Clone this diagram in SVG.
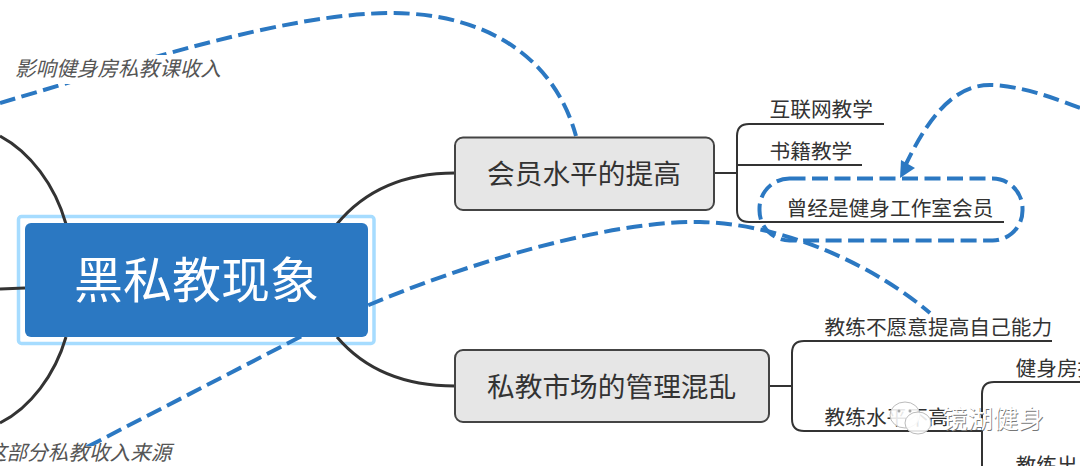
<svg xmlns="http://www.w3.org/2000/svg" width="1080" height="466" viewBox="0 0 1080 466">
<defs>
<style>
text{font-family:"Noto Sans CJK SC","Noto Sans",sans-serif;fill:#333}
.topic{fill:#e6e6e6;stroke:#444;stroke-width:2}
.t2{font-size:27.700px}
.leaf{font-size:20.700px}
.note{font-size:20.600px;font-style:italic;fill:#555}
.branch{fill:none;stroke:#333;stroke-width:3}
.tree{fill:none;stroke:#333;stroke-width:2}
.rel{fill:none;stroke:#2b78c2;stroke-width:4;stroke-dasharray:16 6.500}
.mark{font-size:25.500px}
.bubble{fill:#fff;fill-opacity:.88;stroke:#bbb;stroke-width:1}
</style>
</defs>
<rect width="1080" height="466" fill="#fff"/>
<g id="central-frame"><rect x="18.500" y="216.500" width="355.500" height="127" rx="3" fill="#fff" stroke="#a6dcff" stroke-width="3.500"/></g>
<g id="leaf-former"><rect x="759.500" y="178.500" width="263" height="62" rx="30" fill="#f3f8fd" class="rel"/><path class="tree" d="M787,222H1004"/><text class="leaf" x="786.500" y="216">曾经是健身工作室会员</text></g>
<g id="connectors">
<path class="branch" d="M66,224C55,185 30,152 0,136"/>
<path class="branch" d="M0,289L25,288"/>
<path class="branch" d="M66,337C55,375 30,408 0,423"/>
<path class="branch" d="M337,224C365,190 405,173 455,173"/>
<path class="branch" d="M337,337C365,370 405,386 455,386"/>
<path class="tree" d="M714,173H737"/>
<path class="tree" d="M749,124H884M749,124Q737,124 737,136V210Q737,222 749,222H787M737,165H862"/>
<path class="tree" d="M769,386H792"/>
<path class="tree" d="M1052,341H804Q792,341 792,353V419Q792,431 804,431H982"/>
<path class="tree" d="M1080,382H994Q982,382 982,394V466"/>
<path class="rel" d="M0,103C130,65 280,14 390,13C490,13 555,60 576,136"/>
<path class="rel" d="M87,447L298,338C420,275 600,220 700,222C790,224 880,270 930,313"/>
<path class="rel" d="M1080,108C1040,92 1010,85 990,85C950,85 925,125 906,164"/>
<path d="M900,178L901,160L915,168Z" fill="#2b78c2"/>
</g>
<g id="central"><rect x="25" y="223" width="343" height="114" rx="6" fill="#2b78c2"/><text x="196.500" y="298" font-size="49" text-anchor="middle" style="fill:#fff">黑私教现象</text></g>
<g id="node-member"><rect class="topic" x="455" y="137.500" width="259" height="72.500" rx="8"/><text class="t2" x="487" y="184">会员水平的提高</text></g>
<g id="node-market"><rect class="topic" x="455" y="350" width="314" height="72" rx="8"/><text class="t2" x="487" y="397">私教市场的管理混乱</text></g>
<g id="leaf-internet"><text class="leaf" x="769.500" y="117">互联网教学</text></g>
<g id="leaf-books"><text class="leaf" x="769.500" y="159">书籍教学</text></g>
<g id="leaf-unwilling"><text class="leaf" x="824.500" y="335">教练不愿意提高自己能力</text></g>
<g id="leaf-low"><text class="leaf" x="824.500" y="425">教练水平不高</text></g>
<g id="leaf-gym"><text class="leaf" x="1015.500" y="376">健身房招</text></g>
<g id="leaf-coach"><text class="leaf" x="1015.500" y="473">教练出身</text></g>
<g id="note-income"><rect x="14" y="55" width="212" height="29" fill="#fff"/><text class="note" x="15" y="76">影响健身房私教课收入</text></g>
<g id="note-source"><rect x="0" y="446" width="176" height="20" fill="#fff"/><text class="note" x="-14" y="460">这部分私教收入来源</text></g>
<g id="watermark">
<ellipse class="bubble" cx="905" cy="415" rx="15" ry="13"/>
<ellipse class="bubble" cx="918" cy="423" rx="13" ry="11"/>
<circle cx="899" cy="411" r="1.500" fill="#aaa"/><circle cx="910" cy="411" r="1.500" fill="#aaa"/>
<text class="mark" x="942" y="428" style="fill:#777" transform="translate(.8 .8)">镜湖健身</text>
<text class="mark" x="942" y="428" style="fill:#fff">镜湖健身</text>
</g>
</svg>
